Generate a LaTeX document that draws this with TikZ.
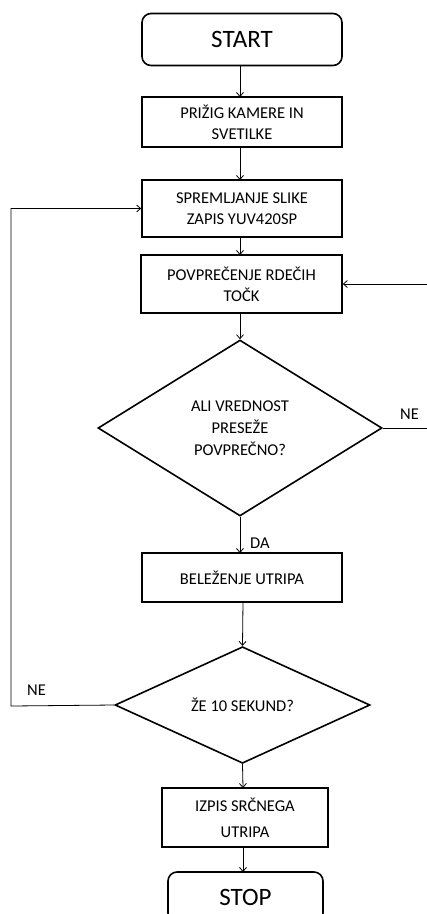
\documentclass[tikz,border=0pt]{standalone}
\usepackage{fontspec}
\setmainfont{Carlito}
\usetikzlibrary{shapes.geometric,arrows.meta}
\begin{document}
\begin{tikzpicture}[x=1pt,y=-1pt,
  box/.style={draw,line width=1.6pt,rectangle,inner sep=0pt,align=center,font=\fontsize{16.5}{21}\selectfont},
  term/.style={draw,line width=1.6pt,rectangle,rounded corners=9pt,inner sep=0pt,font=\fontsize{25}{28}\selectfont},
  dec/.style={draw,line width=1.6pt,diamond,inner sep=0pt,align=center,font=\fontsize{16.5}{22}\selectfont},
  conn/.style={line width=0.8pt,-{Straight Barb[length=4pt,width=7pt]}},
  lbl/.style={font=\fontsize{16.5}{18}\selectfont,inner sep=0pt}]
\useasboundingbox (0,0) rectangle (427,914);
\clip (0,0) rectangle (427,914);
\node[term,minimum width=200pt,minimum height=52pt] (start) at (242,39.5) {START};
\node[box,minimum width=200pt,minimum height=50pt] (n1) at (242,122) {PRIŽIG KAMERE IN\\SVETILKE};
\node[box,minimum width=200pt,minimum height=57pt] (n2) at (242,208.5) {SPREMLJANJE SLIKE\\ZAPIS YUV420SP};
\node[box,minimum width=201pt,minimum height=58pt] (n3) at (241.5,284) {POVPREČENJE RDEČIH\\TOČK};
\node[dec,minimum width=284pt,minimum height=176pt] (d1) at (240,428) {ALI VREDNOST\\PRESEŽE\\POVPREČNO?};
\node[box,minimum width=200pt,minimum height=49pt] (n4) at (242,577.5) {BELEŽENJE UTRIPA};
\node[dec,minimum width=255pt,minimum height=116pt] (d2) at (242.5,705) {ŽE 10 SEKUND?};
\node[box,minimum width=166pt,minimum height=59pt,font=\fontsize{16.5}{26}\selectfont] (n5) at (245,817.5) {IZPIS SRČNEGA\\UTRIPA};
\node[term,minimum width=155pt,minimum height=50pt] (stop) at (245.5,897) {STOP};
\coordinate (r1) at (428,428);
\coordinate (l1) at (11,706);
\draw[conn] (240,65) -- (240,97);
\draw[conn] (240,147) -- (240,180);
\draw[conn] (240,237) -- (240,255);
\draw[conn] (240,313) -- (d1.north);
\draw[conn] (d1.south) -- (240,553);
\draw[conn] (243,602) -- (d2.north);
\draw[conn] (d2.south) -- (243,788);
\draw[conn] (243,847) -- (243,872);
\draw[conn] (d1.east) -- (r1) |- (n3.east);
\draw[conn] (d2.west) -- (l1) |- (n2.west);
\node[lbl,anchor=base west] (ne1) at (400,419) {NE};
\node[lbl,anchor=base west] (ne2) at (27,695) {NE};
\node[lbl,anchor=base west] (da) at (250,548) {DA};
\end{tikzpicture}
\end{document}
